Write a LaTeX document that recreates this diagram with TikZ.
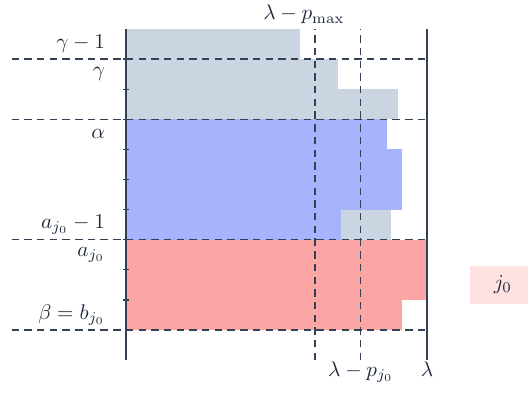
\documentclass[tikz,border=0pt]{standalone}
\usepackage{xcolor}
\usetikzlibrary{positioning}
\definecolor{barslate}{HTML}{CBD5E1}
\definecolor{barindigo}{HTML}{A5B4FC}
\definecolor{barred}{HTML}{FCA5A5}
\definecolor{boxpink}{HTML}{FEE2E2}
\definecolor{axisink}{HTML}{334155}
\definecolor{textink}{HTML}{1E293B}

\begin{document}
\begin{tikzpicture}[
        x=0.5cm, y=0.5cm,
        axisline/.style={draw=axisink, line width=0.6pt},
        guide/.style={draw=axisink, dash pattern=on 3.5pt off 2.5pt, line width=0.55pt},
        rowlabel/.style={anchor=east, text=textink},
        xlabel/.style={anchor=base, text=textink},
        jobbox/.style={rectangle, fill=boxpink, text=textink, minimum width=1.1cm, minimum height=0.63cm}
    ]
        \useasboundingbox (-4.186,-2.193) rectangle (13.355,10.963);
        % bars
        \fill[barslate] (0,9) rectangle (5.78,10);
        \fill[barslate] (0,8) rectangle (7.03,9);
        \fill[barslate] (0,7) rectangle (9.05,8);
        \fill[barindigo] (0,6) rectangle (8.66,7);
        \fill[barindigo] (0,4) rectangle (9.17,6);
        \fill[barindigo] (0,3) rectangle (7.14,4);
        \fill[barslate] (7.14,3) rectangle (8.8,4);
        \fill[barred] (0,1) rectangle (10,3);
        \fill[barred] (0,0) rectangle (9.18,1);
        % guides
        \foreach \y in {0,3,7,9}
            \draw[guide] (-3.8,\y) -- (10,\y);
        \draw[guide] (6.28,-1) -- (6.28,10);
        \draw[guide] (7.8,-1) -- (7.8,10);
        % axes
        \draw[axisline] (0,-1) -- (0,10);
        \draw[axisline] (10,-1) -- (10,10);
        \foreach \y in {1,...,9}
            \draw[axisline] (-0.1,\y) -- (0.1,\y);
        \node[rowlabel] (gammaone) at (-0.45,9.5) {$\gamma-1$};
        \node[rowlabel] (gamma) at (-0.45,8.5) {$\gamma$};
        \node[rowlabel] (alpha) at (-0.45,6.5) {$\alpha$};
        \node[rowlabel] (ajone) at (-0.45,3.5) {$a_{j_0}-1$};
        \node[rowlabel] (aj) at (-0.45,2.5) {$a_{j_0}$};
        \node[rowlabel] (beta) at (-0.45,0.5) {$\beta=b_{j_0}$};
        \node[xlabel] (pmax) at (5.91,10.3) {$\lambda-p_{\max}$};
        \node[xlabel] (pj) at (7.8,-1.53) {$\lambda-p_{j_0}$};
        \node[xlabel] (lam) at (10,-1.53) {$\lambda$};
        \node[jobbox] (jzero) at (12.52,1.5) {$j_0$};
    \end{tikzpicture}
\end{document}
